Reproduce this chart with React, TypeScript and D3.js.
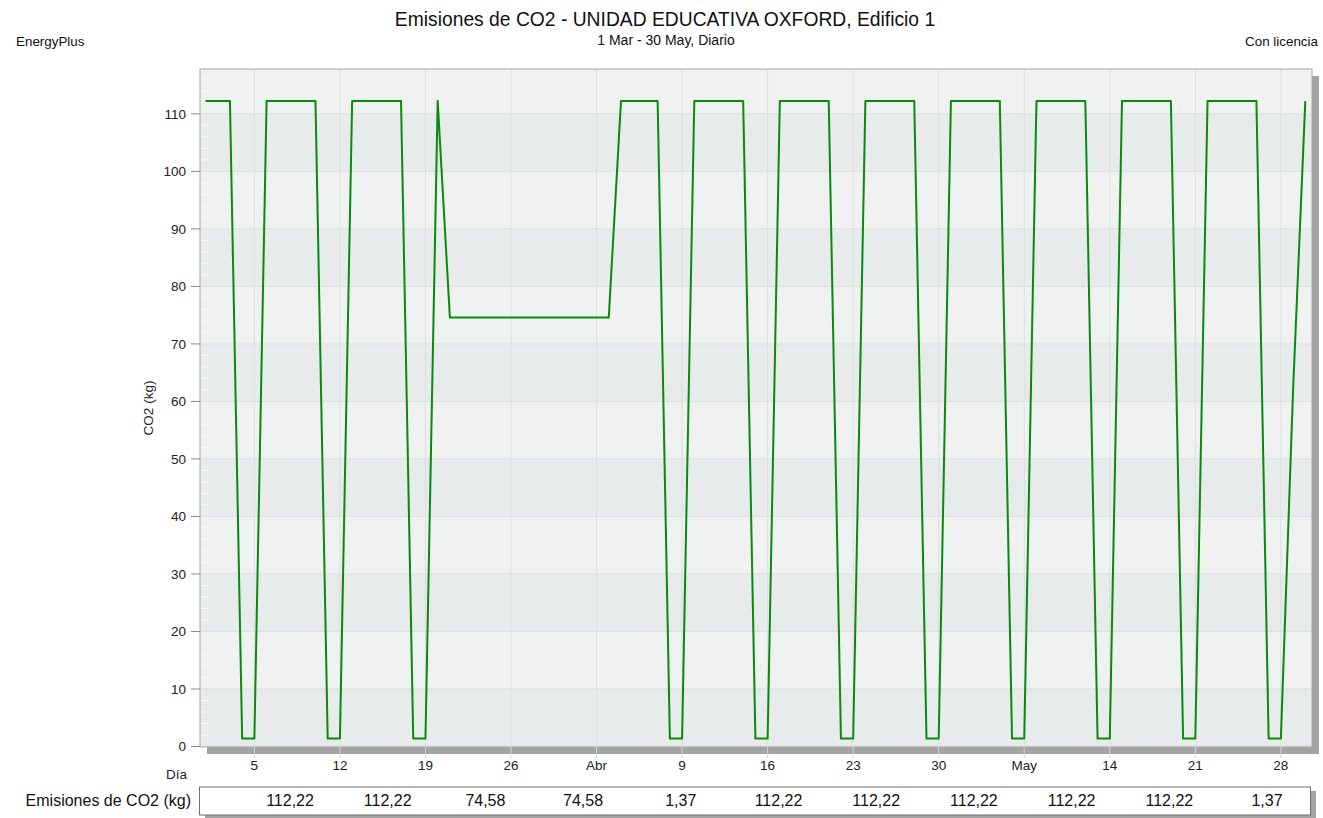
import * as d3 from 'd3';

// daily CO2 values (kg), 1 Mar - 30 May
const marchValues = [
  112.22, 112.22, 112.22, 1.37, 1.37,
  112.22, 112.22, 112.22, 112.22, 112.22, 1.37, 1.37,
  112.22, 112.22, 112.22, 112.22, 112.22, 1.37, 1.37,
  112.22, 74.58, 74.58, 74.58, 74.58, 74.58, 74.58,
  74.58, 74.58, 74.58, 74.58, 74.58,
];
const aprilValues = [
  74.58, 74.58, 74.58, 112.22, 112.22, 112.22, 112.22, 1.37, 1.37,
  112.22, 112.22, 112.22, 112.22, 112.22, 1.37, 1.37,
  112.22, 112.22, 112.22, 112.22, 112.22, 1.37, 1.37,
  112.22, 112.22, 112.22, 112.22, 112.22, 1.37, 1.37,
];
const mayValues = [
  112.22, 112.22, 112.22, 112.22, 112.22, 1.37, 1.37,
  112.22, 112.22, 112.22, 112.22, 112.22, 1.37, 1.37,
  112.22, 112.22, 112.22, 112.22, 112.22, 1.37, 1.37,
  112.22, 112.22, 112.22, 112.22, 112.22, 1.37, 1.37,
  62, 112.22,
];

const xTickDates = [
  new Date(2023, 2, 5), new Date(2023, 2, 12), new Date(2023, 2, 19), new Date(2023, 2, 26),
  new Date(2023, 3, 2), new Date(2023, 3, 9), new Date(2023, 3, 16), new Date(2023, 3, 23),
  new Date(2023, 3, 30), new Date(2023, 4, 7), new Date(2023, 4, 14), new Date(2023, 4, 21),
  new Date(2023, 4, 28),
];
const xTickLabels = ['5', '12', '19', '26', 'Abr', '9', '16', '23', '30', 'May', '14', '21', '28'];
const yTicks = [0, 10, 20, 30, 40, 50, 60, 70, 80, 90, 100, 110];
const tableValues = [112.22, 112.22, 74.58, 74.58, 1.37, 112.22, 112.22, 112.22, 112.22, 112.22, 1.37];

const FONT = '"Liberation Sans", Arial, sans-serif';

const startDate = new Date(2023, 2, 1);
const series = [...marchValues, ...aprilValues, ...mayValues].map((v, i) => ({
  date: d3.timeDay.offset(startDate, i),
  value: v,
}));

export default function App() {
  const plot = { left: 200, top: 69, right: 1312, bottom: 747 };

  const x = d3.scaleTime()
    .domain([startDate, new Date(2023, 4, 30)])
    .range([205.5, 1305.3]);
  const y = d3.scaleLinear().domain([0, 117.75]).range([746.5, 69.3]);

  const line = d3.line<{ date: Date; value: number }>()
    .x(d => x(d.date))
    .y(d => y(d.value));

  const bands = d3.range(0, 120, 10);
  const minorTicks = d3.range(0, 118, 2).filter(v => v % 10 !== 0);

  const tableX = d3.scalePoint<number>()
    .domain(d3.range(tableValues.length))
    .range([290, 1267]);
  const fmt = (v: number) => d3.format('.2f')(v).replace('.', ',');

  return (
    <svg width={1323} height={818} style={{ position: 'absolute', left: 0, top: 0, background: '#fff' }}
      fontFamily={FONT}>
      <defs>
        <clipPath id="plotClip">
          <rect x={plot.left} y={plot.top} width={plot.right - plot.left} height={plot.bottom - plot.top} />
        </clipPath>
      </defs>

      {/* header */}
      <text x={665} y={26} textAnchor="middle" fontSize={19.3} fill="#111">
        Emisiones de CO2 - UNIDAD EDUCATIVA OXFORD, Edificio 1
      </text>
      <text x={666} y={45} textAnchor="middle" fontSize={14} fill="#111">1 Mar - 30 May, Diario</text>
      <text x={16} y={46} fontSize={13.4} fill="#111">EnergyPlus</text>
      <text x={1318} y={46} textAnchor="end" fontSize={13.4} fill="#111">Con licencia</text>

      {/* plot shadow + background */}
      <rect x={plot.left + 7} y={plot.top + 7} width={plot.right - plot.left} height={plot.bottom - plot.top} fill="#a3a3a3" />
      <rect x={plot.left} y={plot.top} width={plot.right - plot.left} height={plot.bottom - plot.top} fill="#f0f1f1" />
      <g clipPath="url(#plotClip)">
        {bands.filter(v => (v / 10) % 2 === 0).map(v => (
          <rect key={v} x={plot.left} y={y(v + 10)} width={plot.right - plot.left} height={y(v) - y(v + 10)} fill="#e8ebec" />
        ))}
        {yTicks.map(v => (
          <line key={v} x1={plot.left} x2={plot.right} y1={y(v)} y2={y(v)} stroke="#dcdfe0" />
        ))}
        {xTickDates.map((d, i) => (
          <line key={i} x1={x(d)} x2={x(d)} y1={plot.top} y2={plot.bottom} stroke="#dcdfe0" />
        ))}
        {minorTicks.map(v => (
          <line key={v} x1={plot.left} x2={plot.left + 8} y1={y(v)} y2={y(v)} stroke="#fafafa" />
        ))}
        <path d={line(series) ?? ''} fill="none" stroke="#0a8a0a" strokeWidth={2} strokeLinejoin="round" />
      </g>
      <rect x={plot.left} y={plot.top} width={plot.right - plot.left} height={plot.bottom - plot.top} fill="none" stroke="#a8a8a8" />

      {/* y axis */}
      {yTicks.map(v => (
        <g key={v}>
          <line x1={plot.left - 9} x2={plot.left} y1={y(v)} y2={y(v)} stroke="#8a8a8a" />
          <text x={186} y={y(v)} dy="0.35em" textAnchor="end" fontSize={13.5} fill="#222">{v}</text>
        </g>
      ))}
      <text transform={`translate(153,${(plot.top + plot.bottom) / 2}) rotate(-90)`} textAnchor="middle"
        fontSize={13.5} fill="#222">CO2 (kg)</text>

      {/* x axis */}
      {xTickDates.map((d, i) => (
        <g key={i}>
          <line x1={x(d)} x2={x(d)} y1={plot.bottom} y2={plot.bottom + 11} stroke="#d4d4d4" />
          <text x={x(d)} y={770} textAnchor="middle" fontSize={13.5} fill="#222">{xTickLabels[i]}</text>
        </g>
      ))}
      <text x={187} y={779} textAnchor="end" fontSize={13.5} fill="#222">Día</text>

      {/* summary table */}
      <rect x={205} y={791} width={1111} height={28} fill="#a3a3a3" />
      <rect x={199.5} y={787} width={1111} height={28} fill="#fff" stroke="#707070" />
      <text x={191} y={806} textAnchor="end" fontSize={16} fill="#111">Emisiones de CO2 (kg)</text>
      {tableValues.map((v, i) => (
        <text key={i} x={tableX(i)} y={806} textAnchor="middle" fontSize={16} fill="#111">{fmt(v)}</text>
      ))}
    </svg>
  );
}
